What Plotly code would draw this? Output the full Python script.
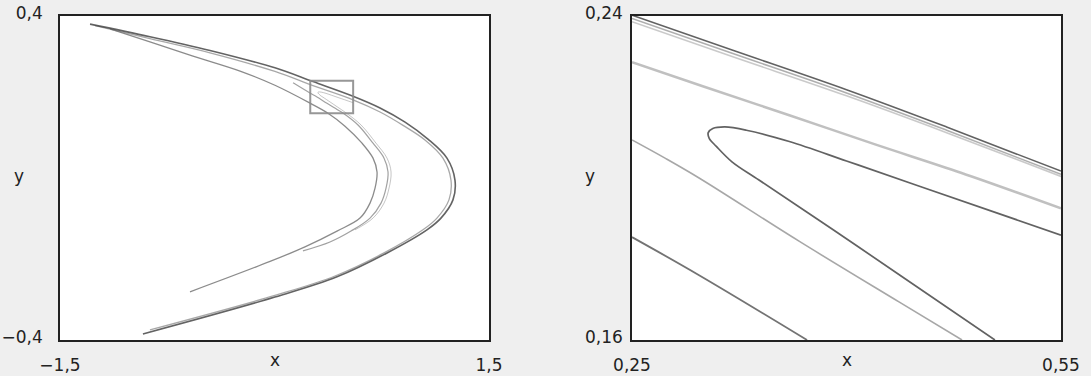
import plotly.graph_objects as go

# ---------------- full view (left panel) : strands ----------------
outer_a_x = [-1.290, -0.871, -0.451, 0.003, 0.269, 0.549, 0.738, 0.913, 1.073, 1.206, 1.262, 1.248, 1.164, 1.066, 0.787, 0.437, 0.003, -0.920]
outer_a_y = [0.380, 0.349, 0.315, 0.272, 0.238, 0.202, 0.173, 0.138, 0.096, 0.049, -0.005, -0.054, -0.099, -0.128, -0.185, -0.244, -0.294, -0.385]

outer_b_x = [-1.255, -0.871, -0.451, 0.003, 0.269, 0.549, 0.738, 0.899, 1.052, 1.178, 1.234, 1.220, 1.136, 1.038, 0.766, 0.423, 0.003, -0.871]
outer_b_y = [0.3765, 0.344, 0.309, 0.263, 0.228, 0.193, 0.163, 0.130, 0.094, 0.049, -0.005, -0.054, -0.099, -0.128, -0.185, -0.242, -0.290, -0.375]

inner_a_x = [-1.150, -0.871, -0.570, -0.241, 0.003, 0.248, 0.374, 0.493, 0.612, 0.689, 0.717, 0.703, 0.668, 0.598, 0.437, 0.213, -0.031, -0.591]
inner_a_y = [0.368, 0.336, 0.301, 0.264, 0.229, 0.185, 0.160, 0.128, 0.086, 0.049, 0.015, -0.025, -0.062, -0.099, -0.131, -0.170, -0.206, -0.281]

inner_b_x = [0.130, 0.250, 0.297, 0.367, 0.437, 0.481, 0.584, 0.689, 0.766, 0.794, 0.780, 0.745, 0.668, 0.535, 0.388, 0.199]
inner_b_y = [0.235, 0.2094, 0.200, 0.1844, 0.1694, 0.160, 0.131, 0.086, 0.049, 0.015, -0.025, -0.062, -0.099, -0.131, -0.158, -0.180]

fold_x = [0.550, 0.450, 0.400, 0.360, 0.330, 0.315, 0.3065, 0.3033, 0.3040, 0.3090, 0.3199, 0.3388, 0.3899, 0.4374, 0.5038, 0.605, 0.710, 0.787, 0.815, 0.801, 0.766, 0.689, 0.563]
fold_y = [0.1859, 0.1981, 0.2042, 0.2090, 0.2118, 0.2126, 0.2122, 0.2112, 0.2098, 0.2078, 0.2040, 0.1995, 0.1874, 0.1760, 0.1600, 0.131, 0.086, 0.049, 0.015, -0.025, -0.062, -0.099, -0.128]

# ---------------- zoomed view (right panel) ----------------
zoom_x_range = [0.25, 0.55]
zoom_y_range = [0.16, 0.24]

band_x = [0.25, 0.32, 0.40, 0.47, 0.55]
band_a_y = [0.2402, 0.2316, 0.2218, 0.2126, 0.2017]
band_b_y = [0.2394, 0.2308, 0.2210, 0.2118, 0.2009]
band_c_y = [0.2386, 0.2300, 0.2203, 0.2112, 0.2004]

light_x = [0.25, 0.30, 0.36, 0.42, 0.48, 0.55]
light_y = [0.2286, 0.2226, 0.2155, 0.2083, 0.2013, 0.1925]

hairpin_x = [0.550, 0.450, 0.400, 0.360, 0.330, 0.315, 0.3065, 0.3033, 0.3040, 0.3090, 0.3199, 0.3388, 0.3899, 0.4374, 0.5038]
hairpin_y = [0.1859, 0.1981, 0.2042, 0.2090, 0.2118, 0.2126, 0.2122, 0.2112, 0.2098, 0.2078, 0.2040, 0.1995, 0.1874, 0.1760, 0.1600]

mid_x = [0.25, 0.2731, 0.2969, 0.3668, 0.4367, 0.4808]
mid_y = [0.2094, 0.2049, 0.2000, 0.1844, 0.1694, 0.1600]

low_x = [0.25, 0.2969, 0.3724]
low_y = [0.1854, 0.1760, 0.1600]

fig = go.Figure()


def add(x, y, color, width, xa, ya):
    fig.add_trace(go.Scatter(x=x, y=y, mode="lines",
                             line=dict(color=color, width=width, shape="spline", smoothing=1.0),
                             xaxis=xa, yaxis=ya, hoverinfo="skip", showlegend=False))


# left
add(inner_a_x, inner_a_y, "rgba(90,90,90,0.7)", 1.3, "x", "y")
add(inner_b_x, inner_b_y, "rgba(110,110,110,0.65)", 1.2, "x", "y")
add(fold_x, fold_y, "rgba(140,140,140,0.5)", 1.0, "x", "y")
add(outer_b_x, outer_b_y, "rgba(110,110,110,0.6)", 1.3, "x", "y")
add(outer_a_x, outer_a_y, "rgba(60,60,60,0.8)", 1.6, "x", "y")

# right
add(low_x, low_y, "rgba(80,80,80,0.8)", 1.8, "x2", "y2")
add(mid_x, mid_y, "rgba(120,120,120,0.65)", 1.6, "x2", "y2")
add(hairpin_x, hairpin_y, "rgba(70,70,70,0.85)", 1.7, "x2", "y2")
add(light_x, light_y, "rgba(150,150,150,0.6)", 2.6, "x2", "y2")
add(band_x, band_c_y, "rgba(150,150,150,0.5)", 1.6, "x2", "y2")
add(band_x, band_b_y, "rgba(120,120,120,0.6)", 1.6, "x2", "y2")
add(band_x, band_a_y, "rgba(70,70,70,0.85)", 1.6, "x2", "y2")

W, H = 1091, 376
dom_l = [60 / W, 489 / W]
dom_r = [632 / W, 1061 / W]
dom_y = [1 - 340 / H, 1 - 16 / H]

axis_common = dict(showgrid=False, zeroline=False, showline=True, mirror=True,
                   linecolor="#222", linewidth=1.5, ticks="", automargin=False,
                   tickfont=dict(size=17, color="#222"))

fig.update_layout(
    width=W, height=H,
    margin=dict(l=0, r=0, t=0, b=0),
    paper_bgcolor="#efefef", plot_bgcolor="white",
    font=dict(family="DejaVu Sans, sans-serif", size=17, color="#222"),
    xaxis=dict(domain=dom_l, range=[-1.5, 1.5], tickvals=[-1.5, 1.5], ticktext=["−1,5", "1,5"],
               anchor="y", ticklabelstandoff=9, **axis_common),
    yaxis=dict(domain=dom_y, range=[-0.4, 0.4], tickvals=[-0.4, 0.4], ticktext=["−0,4", "0,4"],
               anchor="x", ticklabelstandoff=12, ticklabelshift=-3, **axis_common),
    xaxis2=dict(domain=dom_r, range=zoom_x_range, tickvals=zoom_x_range, ticktext=["0,25", "0,55"],
                anchor="y2", ticklabelstandoff=9, **axis_common),
    yaxis2=dict(domain=dom_y, range=zoom_y_range, tickvals=zoom_y_range, ticktext=["0,16", "0,24"],
                anchor="x2", ticklabelstandoff=4, ticklabelshift=-3, **axis_common),
    shapes=[dict(type="rect", xref="x", yref="y",
                 x0=zoom_x_range[0], x1=zoom_x_range[1], y0=zoom_y_range[0], y1=zoom_y_range[1],
                 line=dict(color="rgba(140,140,140,0.9)", width=2), layer="above")],
    annotations=[
        dict(text="x", xref="paper", yref="paper", x=(dom_l[0] + dom_l[1]) / 2, y=1 - 360 / H,
             showarrow=False, xanchor="center", yanchor="middle", font=dict(size=17)),
        dict(text="y", xref="paper", yref="paper", x=19 / W, y=1 - 176 / H,
             showarrow=False, xanchor="center", yanchor="middle", font=dict(size=17)),
        dict(text="x", xref="paper", yref="paper", x=(dom_r[0] + dom_r[1]) / 2, y=1 - 360 / H,
             showarrow=False, xanchor="center", yanchor="middle", font=dict(size=17)),
        dict(text="y", xref="paper", yref="paper", x=590 / W, y=1 - 176 / H,
             showarrow=False, xanchor="center", yanchor="middle", font=dict(size=17)),
    ],
)

fig.write_html("out.html",
               config={"displayModeBar": False},
               post_script="document.body.style.margin='0';document.body.style.overflow='hidden';"
                           "document.body.style.background='#efefef';")
